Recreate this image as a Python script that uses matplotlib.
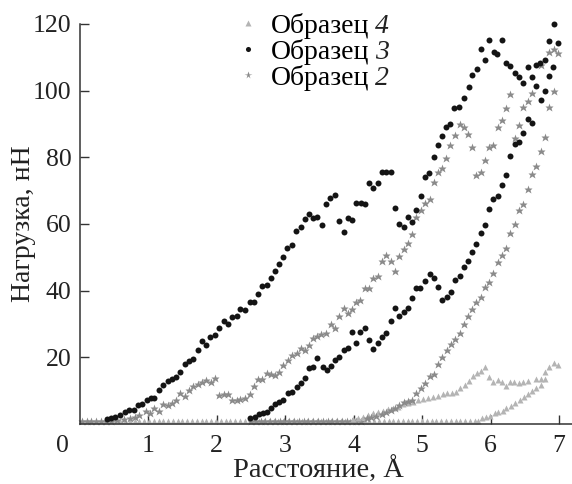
import matplotlib
matplotlib.use("Agg")
import matplotlib.pyplot as plt

# Образец 3 (black circles): loading then unloading branch
s3_load_x = [0.40, 0.46, 0.52, 0.59, 0.66, 0.72, 0.79, 0.85, 0.91, 0.98,
             1.04, 1.09, 1.16, 1.22, 1.29, 1.35, 1.41, 1.47, 1.54, 1.60,
             1.66, 1.72, 1.79, 1.84, 1.90, 1.98, 2.04, 2.10, 2.16, 2.23,
             2.29, 2.34, 2.41, 2.48, 2.54, 2.61, 2.66, 2.73, 2.79, 2.85,
             2.91, 2.97, 3.03, 3.10, 3.16, 3.23, 3.29, 3.35, 3.41, 3.47,
             3.54, 3.60, 3.66, 3.73, 3.79, 3.86, 3.92, 3.97, 4.04, 4.11,
             4.17, 4.23, 4.29, 4.35, 4.42, 4.48, 4.55, 4.60, 4.67, 4.73,
             4.79, 4.85, 4.91, 4.98, 5.04, 5.10, 5.17, 5.23, 5.29, 5.35,
             5.41, 5.47, 5.54, 5.61, 5.68, 5.73, 5.80, 5.86, 5.92, 5.98,
             6.05, 6.10, 6.17, 6.23, 6.29, 6.36, 6.42, 6.48, 6.54, 6.60,
             6.66, 6.72, 6.79, 6.85, 6.92]
s3_load_y = [1.5, 1.7, 2.0, 2.7, 3.7, 4.2, 4.2, 5.7, 5.9, 7.1,
             7.7, 7.9, 10.2, 11.7, 12.9, 13.4, 14.2, 15.5, 18.0, 19.0,
             19.4, 22.2, 25.0, 23.7, 26.0, 26.7, 28.7, 31.0, 30.0, 32.0,
             32.4, 34.4, 34.2, 36.5, 36.7, 39.0, 41.4, 41.7, 43.7, 45.9,
             47.9, 50.2, 52.7, 53.7, 57.9, 59.2, 61.4, 62.9, 61.7, 62.2,
             59.6, 65.9, 67.7, 68.7, 61.0, 57.7, 61.7, 61.2, 66.4, 66.4,
             65.9, 72.2, 70.7, 72.4, 75.7, 75.7, 75.7, 64.7, 59.9, 59.2,
             62.0, 60.5, 64.2, 68.4, 74.2, 75.2, 80.2, 83.7, 86.4, 89.2,
             90.0, 94.7, 95.2, 97.7, 101.0, 104.7, 106.4, 112.4, 109.2, 115.2,
             111.7, 110.9, 115.2, 108.2, 107.4, 105.4, 104.2, 102.2, 107.2, 104.2,
             107.7, 108.2, 109.2, 115.0, 120.0]
s3_unl_x = [6.98, 6.91, 6.85, 6.79, 6.73, 6.67, 6.61, 6.54, 6.48, 6.42,
            6.36, 6.29, 6.23, 6.17, 6.11, 6.04, 5.98, 5.92, 5.86, 5.79,
            5.73, 5.67, 5.61, 5.55, 5.48, 5.42, 5.36, 5.29, 5.23, 5.17,
            5.11, 5.04, 4.97, 4.91, 4.86, 4.79, 4.73, 4.66, 4.60, 4.54,
            4.48, 4.42, 4.36, 4.29, 4.23, 4.16, 4.10, 4.04, 3.98, 3.92,
            3.86, 3.79, 3.73, 3.67, 3.61, 3.55, 3.47, 3.41, 3.35, 3.29,
            3.23, 3.17, 3.10, 3.04, 2.97, 2.91, 2.85, 2.79, 2.73, 2.67,
            2.62, 2.56, 2.49]
s3_unl_y = [114.2, 107.0, 104.4, 99.8, 97.2, 101.4, 90.4, 91.5, 87.2, 84.7,
            83.9, 80.4, 74.7, 71.7, 68.4, 67.4, 64.4, 59.8, 57.2, 53.9,
            51.6, 49.0, 47.2, 44.4, 43.2, 39.7, 38.2, 37.2, 41.2, 43.9,
            44.9, 42.9, 40.7, 40.7, 37.7, 34.7, 33.7, 32.4, 34.9, 30.9,
            27.2, 26.0, 24.2, 22.4, 25.2, 28.9, 27.7, 24.2, 27.5, 22.7,
            22.2, 20.0, 19.2, 17.5, 16.2, 17.2, 19.7, 17.2, 16.7, 13.7,
            12.4, 11.2, 9.7, 9.4, 7.2, 6.5, 5.9, 4.9, 3.7, 3.4,
            3.0, 2.0, 1.7]

# Образец 2 (grey stars)
s2_load_x = [0.55, 0.65, 0.73, 0.80, 0.87, 0.97, 1.03, 1.09, 1.16, 1.22,
             1.29, 1.35, 1.41, 1.47, 1.53, 1.60, 1.66, 1.72, 1.79, 1.85,
             1.92, 1.98, 2.04, 2.10, 2.16, 2.23, 2.29, 2.34, 2.41, 2.48,
             2.54, 2.60, 2.66, 2.73, 2.79, 2.85, 2.91, 2.97, 3.04, 3.10,
             3.17, 3.23, 3.29, 3.35, 3.41, 3.47, 3.53, 3.60, 3.67, 3.73,
             3.79, 3.86, 3.92, 3.98, 4.04, 4.10, 4.16, 4.23, 4.29, 4.36,
             4.42, 4.48, 4.54, 4.60, 4.66, 4.73, 4.79, 4.85, 4.91, 4.98,
             5.04, 5.11, 5.17, 5.23, 5.29, 5.35, 5.41, 5.48, 5.55, 5.61,
             5.67, 5.73, 5.79, 5.86, 5.92, 5.98, 6.04, 6.11, 6.17, 6.23,
             6.29, 6.36, 6.42, 6.48, 6.54, 6.61, 6.73, 6.86, 6.92, 6.99]
s2_load_y = [1.2, 1.5, 1.7, 2.2, 2.7, 3.9, 3.2, 4.7, 4.0, 5.9,
             5.7, 6.4, 7.2, 9.2, 8.5, 10.2, 11.5, 11.9, 12.5, 13.2,
             12.7, 13.7, 8.7, 9.0, 9.0, 7.2, 7.2, 7.5, 7.9, 9.0,
             11.5, 13.4, 13.4, 15.4, 15.0, 14.7, 15.5, 17.7, 19.2, 20.7,
             21.2, 22.7, 22.2, 23.7, 25.7, 26.4, 27.0, 27.4, 30.0, 28.7,
             32.4, 34.7, 33.2, 34.4, 36.7, 37.2, 40.9, 40.9, 43.7, 44.4,
             48.9, 50.7, 48.9, 45.9, 50.4, 52.5, 54.2, 57.0, 62.2, 64.2,
             66.4, 67.5, 72.5, 75.7, 76.7, 79.7, 83.7, 86.7, 90.0, 89.0,
             87.0, 83.0, 74.7, 75.7, 79.2, 83.0, 83.7, 89.0, 91.2, 94.9,
             98.9, 85.9, 89.6, 95.0, 96.9, 99.2, 107.7, 111.7, 112.4, 111.2]
s2_unl_x = [6.92, 6.86, 6.79, 6.73, 6.67, 6.61, 6.54, 6.48, 6.42, 6.36,
            6.29, 6.23, 6.17, 6.11, 6.04, 5.98, 5.92, 5.86, 5.79, 5.73,
            5.67, 5.61, 5.55, 5.48, 5.42, 5.36, 5.29, 5.23, 5.17, 5.11,
            5.04, 4.98, 4.91, 4.85, 4.79, 4.73, 4.66, 4.60, 4.54, 4.48,
            4.41, 4.33, 4.26, 4.19]
s2_unl_y = [99.8, 95.0, 86.2, 82.0, 77.4, 75.0, 70.5, 66.0, 64.2, 60.0,
            57.4, 52.7, 50.7, 48.7, 45.2, 42.7, 41.2, 38.0, 36.7, 34.4,
            32.4, 29.9, 27.4, 25.5, 24.0, 22.2, 20.2, 17.9, 14.9, 14.4,
            12.2, 10.7, 9.4, 7.2, 6.9, 6.7, 5.7, 4.7, 4.2, 3.7,
            3.0, 2.5, 2.2, 1.7]
s2_zero_x = [0.03, 0.10, 0.17, 0.24, 0.31, 0.38, 0.45, 2.50, 2.57, 2.64,
             2.71, 2.78, 2.85, 2.92, 2.99, 3.06, 3.13, 3.20, 3.27, 3.34,
             3.41, 3.48, 3.55, 3.62, 3.69, 3.76, 3.83, 3.90, 3.97, 4.04,
             4.11]
s2_zero_y = [0.8] * len(s2_zero_x)

# Образец 4 (light grey triangles)
s4_load_x = [3.99, 4.07, 4.14, 4.21, 4.28, 4.36, 4.43, 4.50, 4.58, 4.65,
             4.72, 4.79, 4.87, 4.94, 5.01, 5.08, 5.16, 5.23, 5.30, 5.37,
             5.44, 5.50, 5.56, 5.62, 5.68, 5.74, 5.80, 5.86, 5.92, 5.98,
             6.04, 6.11, 6.17, 6.22, 6.28, 6.35, 6.42, 6.48, 6.55, 6.66,
             6.73, 6.79, 6.86, 6.92, 6.99]
s4_load_y = [1.4, 1.7, 2.2, 2.7, 3.2, 3.5, 4.0, 4.4, 4.7, 5.2,
             6.0, 6.4, 6.7, 7.2, 7.5, 7.7, 8.2, 8.5, 8.9, 9.2,
             9.4, 9.7, 10.7, 11.7, 12.9, 14.4, 15.2, 16.0, 17.2, 14.2,
             12.7, 13.2, 12.5, 11.5, 12.5, 12.5, 12.2, 12.7, 13.0, 13.4,
             13.4, 13.4, 17.2, 18.4, 17.7]
s4_unl_x = [6.80, 6.73, 6.67, 6.61, 6.55, 6.49, 6.43, 6.36, 6.30, 6.23,
            6.18, 6.11, 6.06, 5.99, 5.93, 5.87]
s4_unl_y = [15.7, 11.7, 10.7, 10.0, 9.0, 8.0, 7.2, 6.2, 5.5, 4.7,
            4.0, 3.7, 3.2, 2.5, 2.2, 1.9]
s4_zero_x = [0.03, 0.10, 0.17, 0.24, 0.31, 0.38, 0.45, 0.52, 0.59, 0.66,
             0.73, 0.80, 0.87, 0.94, 1.01, 1.08, 1.15, 1.22, 1.29, 1.36,
             1.43, 1.50, 1.57, 1.64, 1.71, 1.78, 1.85, 1.92, 1.99, 2.06,
             2.13, 2.20, 2.27, 2.34, 2.41, 2.48, 2.55, 2.62, 2.69, 2.76,
             2.83, 2.90, 2.97, 3.04, 3.11, 3.18, 3.25, 3.32, 3.39, 3.46,
             3.53, 3.60, 3.67, 3.74, 3.81, 3.88, 3.95, 4.02, 4.09, 4.16,
             4.23, 4.30, 4.37, 4.44, 4.51, 4.58, 4.65, 4.72, 4.79, 4.86,
             4.93, 5.00, 5.07, 5.14, 5.21, 5.28, 5.35, 5.42, 5.49, 5.56,
             5.63, 5.70, 5.77, 5.82]
s4_zero_y = [0.8] * len(s4_zero_x)

label_word = "Образец"
label_nums = ["4", "3", "2"]

plt.rcParams['font.family'] = ['Liberation Serif', 'DejaVu Serif']

fig = plt.figure(figsize=(5.72, 4.84), dpi=100)
ax = fig.add_axes([79.8 / 572, 60 / 484, (572 - 79.8) / 572, 400 / 484])

c4, c3, c2 = '#b4b4b4', '#141414', '#8a8a8a'
kw4 = dict(ls='none', marker='^', ms=4.5, color=c4, mec='none', clip_on=False)
kw3 = dict(ls='none', marker='o', ms=4.3, color=c3, mec='none', clip_on=False)
kw2 = dict(ls='none', marker='*', ms=6.3, color=c2, mec='none', clip_on=False)

ax.plot(s4_zero_x, s4_zero_y, **kw4)
ax.plot(s2_zero_x, s2_zero_y, **kw2)
h4, = ax.plot(s4_load_x + s4_unl_x, s4_load_y + s4_unl_y, **kw4)
h2, = ax.plot(s2_load_x + s2_unl_x, s2_load_y + s2_unl_y, **kw2)
h3, = ax.plot(s3_load_x + s3_unl_x, s3_load_y + s3_unl_y, **kw3)

ax.set_xlim(0, 7.19)
ax.set_ylim(0, 120)
ax.set_xticks([1, 2, 3, 4, 5, 6, 7])
ax.set_yticks([20, 40, 60, 80, 100, 120])
for s in ['top', 'right']:
    ax.spines[s].set_visible(False)
for s in ['left', 'bottom']:
    ax.spines[s].set_color('#333333')
    ax.spines[s].set_linewidth(1.1)
tc = '#222222'
ax.tick_params(direction='in', length=6.5, width=1.0, color='#333333',
               labelsize=18.5, labelcolor=tc)
ax.tick_params(axis='x', pad=8)
ax.tick_params(axis='y', pad=6)
fig.text(62 / 572, 1 - 446 / 484, '0', ha='center', va='center',
         fontsize=18.5, color=tc)

ax.set_xlabel('Расстояние, Å', fontsize=20.5, color=tc, labelpad=0)
ax.xaxis.label.set_x(0.484)
ax.set_ylabel('Нагрузка, нН', fontsize=20, color=tc, labelpad=-2.5)

leg = ax.legend([h4, h3, h2], [label_word] * 3, loc='upper left', frameon=False,
                fontsize=20, bbox_to_anchor=(240 / 572, 1 - 13 / 484),
                bbox_transform=fig.transFigure, borderpad=0, borderaxespad=0,
                handlelength=0.55, handletextpad=0.55, labelspacing=0.0,
                markerscale=0.85)

# italic sample numbers after each legend word
fig.canvas.draw()
r = fig.canvas.get_renderer()
for t, n in zip(leg.get_texts(), label_nums):
    bb = t.get_window_extent(r)
    fig.text((bb.x1 + 6) / 572, bb.y0 / 484, n, fontsize=20, style='italic',
             color=tc, ha='left', va='bottom')

fig.savefig('out.png', dpi=100)
